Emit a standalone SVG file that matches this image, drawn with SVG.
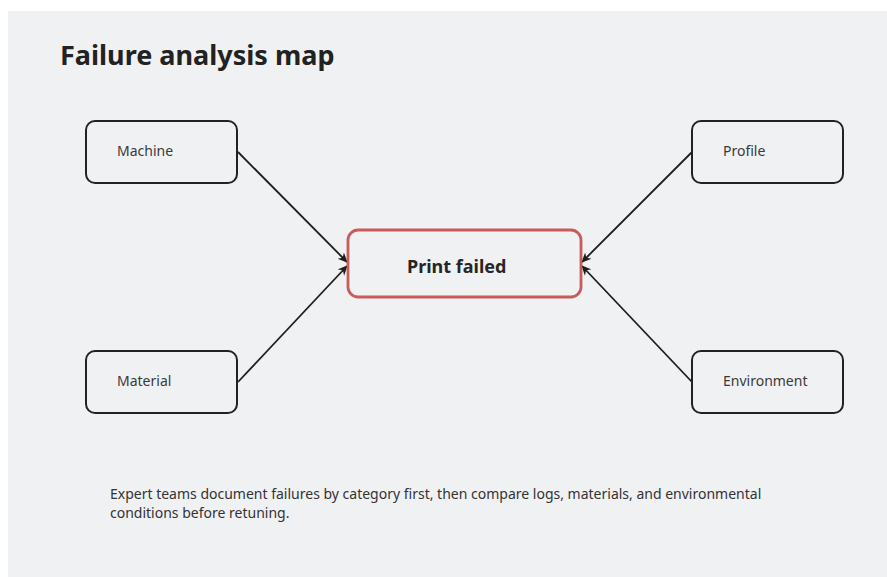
<svg xmlns="http://www.w3.org/2000/svg" width="887" height="577" viewBox="0 0 887 577">
  <defs>
    <style>
      .node rect { fill: #f0f1f3; stroke: #222222; stroke-width: 2; }
      .node text { font-family: "Noto Sans", "Open Sans", sans-serif; font-size: 14px; fill: #3a3a3a; }
      .main rect { fill: #f0f1f3; stroke: #c95b5b; stroke-width: 2.8; }
      .main text { font-family: "Noto Sans", "Open Sans", sans-serif; font-size: 18px; font-weight: bold; fill: #262626; }
      .edge { fill: none; stroke: #1e1e1e; stroke-width: 1.8; }
      .title { font-family: "Noto Sans", "Open Sans", sans-serif; font-size: 27px; font-weight: bold; fill: #222222; }
      .note { font-family: "Noto Sans", "Open Sans", sans-serif; font-size: 14px; fill: #333333; }
    </style>
    <marker id="arrow" viewBox="0 0 10 10" refX="9" refY="5" markerWidth="10" markerHeight="10" markerUnits="userSpaceOnUse" orient="auto">
      <path d="M0,0.5 L10,5 L0,9.5 L3,5 Z" fill="#1e1e1e"/>
    </marker>
  </defs>
  <rect x="0" y="0" width="887" height="577" fill="#ffffff"/>
  <rect x="8" y="11" width="879" height="566" fill="#f0f1f3"/>
  <text class="title" x="60" y="65">Failure analysis map</text>

  <g id="connectors">
    <line class="edge" x1="238" y1="152" x2="347" y2="262" marker-end="url(#arrow)"/>
    <line class="edge" x1="238" y1="382" x2="347" y2="266" marker-end="url(#arrow)"/>
    <line class="edge" x1="692" y1="152" x2="582" y2="262" marker-end="url(#arrow)"/>
    <line class="edge" x1="692" y1="382" x2="582" y2="266" marker-end="url(#arrow)"/>
  </g>

  <g id="node-machine" class="node">
    <rect x="86" y="121" width="151" height="62" rx="9"/>
    <text x="117" y="156">Machine</text>
  </g>
  <g id="node-material" class="node">
    <rect x="86" y="351" width="151" height="62" rx="9"/>
    <text x="117" y="386">Material</text>
  </g>
  <g id="node-profile" class="node">
    <rect x="692" y="121" width="151" height="62" rx="9"/>
    <text x="723" y="156">Profile</text>
  </g>
  <g id="node-environment" class="node">
    <rect x="692" y="351" width="151" height="62" rx="9"/>
    <text x="723" y="386">Environment</text>
  </g>
  <g id="node-print-failed" class="main">
    <rect x="348" y="230" width="233" height="67" rx="10"/>
    <text x="407" y="273">Print failed</text>
  </g>

  <text class="note" x="110" y="499">Expert teams document failures by category first, then compare logs, materials, and environmental</text>
  <text class="note" x="110" y="518">conditions before retuning.</text>
</svg>
